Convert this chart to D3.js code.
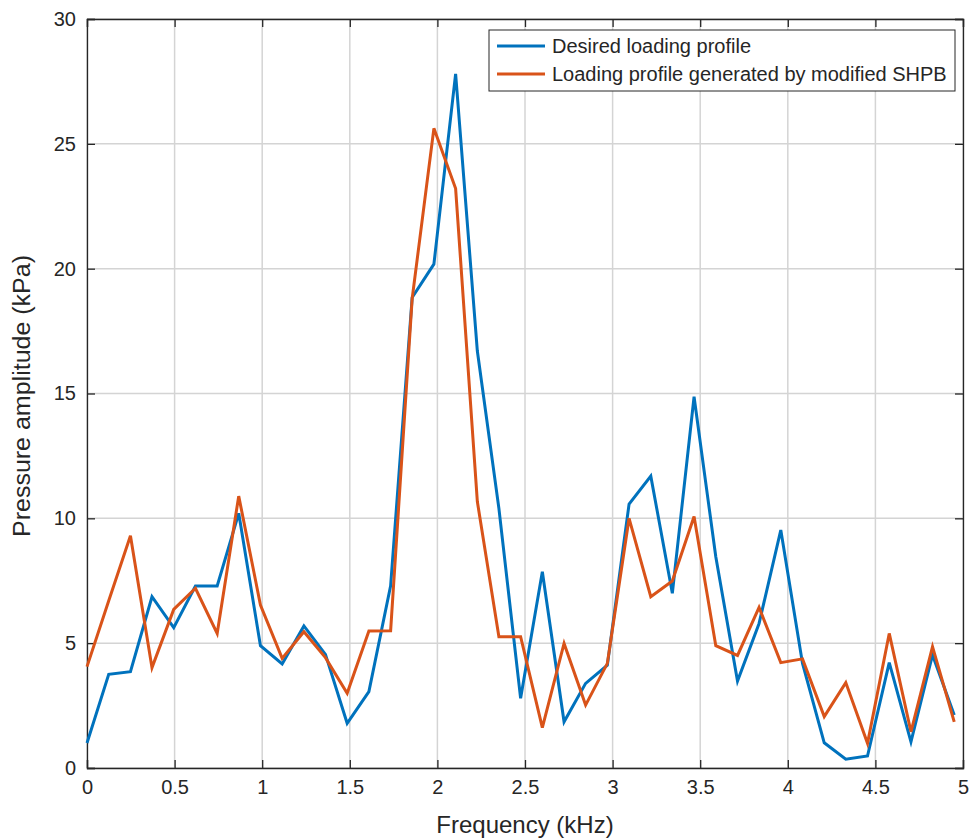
<!DOCTYPE html>
<html lang="en">
  <head>
    <meta charset="UTF-8" />
    <title>Pressure amplitude vs frequency</title>
    <script src="https://d3js.org/d3.v7.min.js"></script>
    <style>
      body { margin: 0; background: #fff; }
      text { font-family: "Liberation Sans", Arial, sans-serif; fill: #262626; }
    </style>
  </head>
  <body>
    <div id="chart"></div>
    <script>
      // frequency samples (kHz)
      var freq = [0, 0.124, 0.248, 0.371, 0.495, 0.619, 0.743, 0.866, 0.99, 1.114,
        1.238, 1.361, 1.485, 1.609, 1.733, 1.856, 1.98, 2.104, 2.228, 2.351,
        2.475, 2.599, 2.723, 2.846, 2.97, 3.094, 3.218, 3.341, 3.465, 3.589,
        3.713, 3.836, 3.96, 4.084, 4.208, 4.331, 4.455, 4.579, 4.703, 4.826, 4.95];

      var desired = [1.0, 3.75, 3.86, 6.86, 5.62, 7.29, 7.29, 10.2, 4.9, 4.17,
        5.69, 4.55, 1.79, 3.06, 7.3, 18.85, 20.18, 27.8, 16.7, 10.4,
        2.79, 7.86, 1.85, 3.39, 4.12, 10.57, 11.69, 7.0, 14.87, 8.46,
        3.48, 5.79, 9.53, 4.19, 1.01, 0.35, 0.48, 4.22, 1.05, 4.53, 2.12];

      var generated = [4.06, 6.7, 9.3, 4.02, 6.35, 7.2, 5.39, 10.89, 6.53, 4.39,
        5.46, 4.42, 2.99, 5.49, 5.5, 18.8, 25.62, 23.21, 10.67, 5.26,
        5.26, 1.62, 4.99, 2.52, 4.19, 10.0, 6.86, 7.49, 10.07, 4.9,
        4.51, 6.43, 4.22, 4.37, 2.06, 3.42, 0.99, 5.39, 1.45, 4.86, 1.85];

      var xTicks = [0, 0.5, 1, 1.5, 2, 2.5, 3, 3.5, 4, 4.5, 5];
      var yTicks = [0, 5, 10, 15, 20, 25, 30];
      var seriesNames = ["Desired loading profile", "Loading profile generated by modified SHPB"];
      var colors = ["#0072BD", "#D95319"];

      var margin = { top: 19, right: 7, bottom: 70, left: 87 };
      var width = 970 - margin.left - margin.right;
      var height = 838 - margin.top - margin.bottom;

      var svg = d3
        .select("#chart")
        .append("svg")
        .attr("width", 970)
        .attr("height", 838)
        .append("g")
        .attr("transform", "translate(" + margin.left + "," + margin.top + ")");

      var x = d3.scaleLinear().domain([0, 5]).range([0, width]);
      var y = d3.scaleLinear().domain([0, 30]).range([height, 0]);

      // grid
      svg.append("g")
        .selectAll("line.vg")
        .data(xTicks)
        .join("line")
        .attr("x1", (d) => x(d))
        .attr("x2", (d) => x(d))
        .attr("y1", 0)
        .attr("y2", height)
        .attr("stroke", "#d4d4d4")
        .attr("stroke-width", 1.5);
      svg.append("g")
        .selectAll("line.hg")
        .data(yTicks)
        .join("line")
        .attr("x1", 0)
        .attr("x2", width)
        .attr("y1", (d) => y(d))
        .attr("y2", (d) => y(d))
        .attr("stroke", "#d4d4d4")
        .attr("stroke-width", 1.5);

      // axes (ticks inward, MATLAB style)
      var xAxis = svg.append("g")
        .attr("transform", "translate(0," + height + ")")
        .call(d3.axisBottom(x).tickValues(xTicks).tickSize(-8).tickPadding(14).tickFormat(d3.format("")));
      var yAxis = svg.append("g")
        .call(d3.axisLeft(y).tickValues(yTicks).tickSize(-8).tickPadding(11));
      svg.append("g")
        .call(d3.axisTop(x).tickValues(xTicks).tickSize(-8).tickFormat(""));
      svg.append("g")
        .attr("transform", "translate(" + width + ",0)")
        .call(d3.axisRight(y).tickValues(yTicks).tickSize(-8).tickFormat(""));

      svg.selectAll(".domain, .tick line").attr("stroke", "#262626").attr("stroke-width", 1.3);
      svg.selectAll(".tick text").style("font-size", "20px").style("font-family", "'Liberation Sans', Arial, sans-serif").attr("fill", "#262626");
      xAxis.selectAll(".tick text").attr("dy", "0.6em");

      // lines
      var line = d3.line()
        .x((d, i) => x(freq[i]))
        .y((d) => y(d));

      [desired, generated].forEach(function (s, k) {
        svg.append("path")
          .datum(s)
          .attr("fill", "none")
          .attr("stroke", colors[k])
          .attr("stroke-width", 3)
          .attr("stroke-linejoin", "miter")
          .attr("d", line);
      });

      // axis labels
      svg.append("text")
        .attr("x", width / 2)
        .attr("y", height + 65)
        .attr("text-anchor", "middle")
        .style("font-size", "24px")
        .text("Frequency (kHz)");

      svg.append("text")
        .attr("transform", "rotate(-90)")
        .attr("x", -(396 - margin.top))
        .attr("y", -57)
        .attr("text-anchor", "middle")
        .attr("textLength", 282)
        .attr("lengthAdjust", "spacingAndGlyphs")
        .style("font-size", "23px")
        .text("Pressure amplitude (kPa)");

      // legend
      var legend = svg.append("g").attr("transform", "translate(" + (489 - margin.left) + "," + (30 - margin.top) + ")");
      legend.append("rect")
        .attr("width", 466)
        .attr("height", 61)
        .attr("fill", "#fff")
        .attr("stroke", "#262626")
        .attr("stroke-width", 1);
      seriesNames.forEach(function (name, k) {
        var ly = 16 + k * 28;
        legend.append("line")
          .attr("x1", 8)
          .attr("x2", 56)
          .attr("y1", ly)
          .attr("y2", ly)
          .attr("stroke", colors[k])
          .attr("stroke-width", 3);
        legend.append("text")
          .attr("x", 63)
          .attr("y", ly)
          .attr("dy", "0.35em")
          .style("font-size", "20px")
          .text(name);
      });
    </script>
  </body>
</html>
